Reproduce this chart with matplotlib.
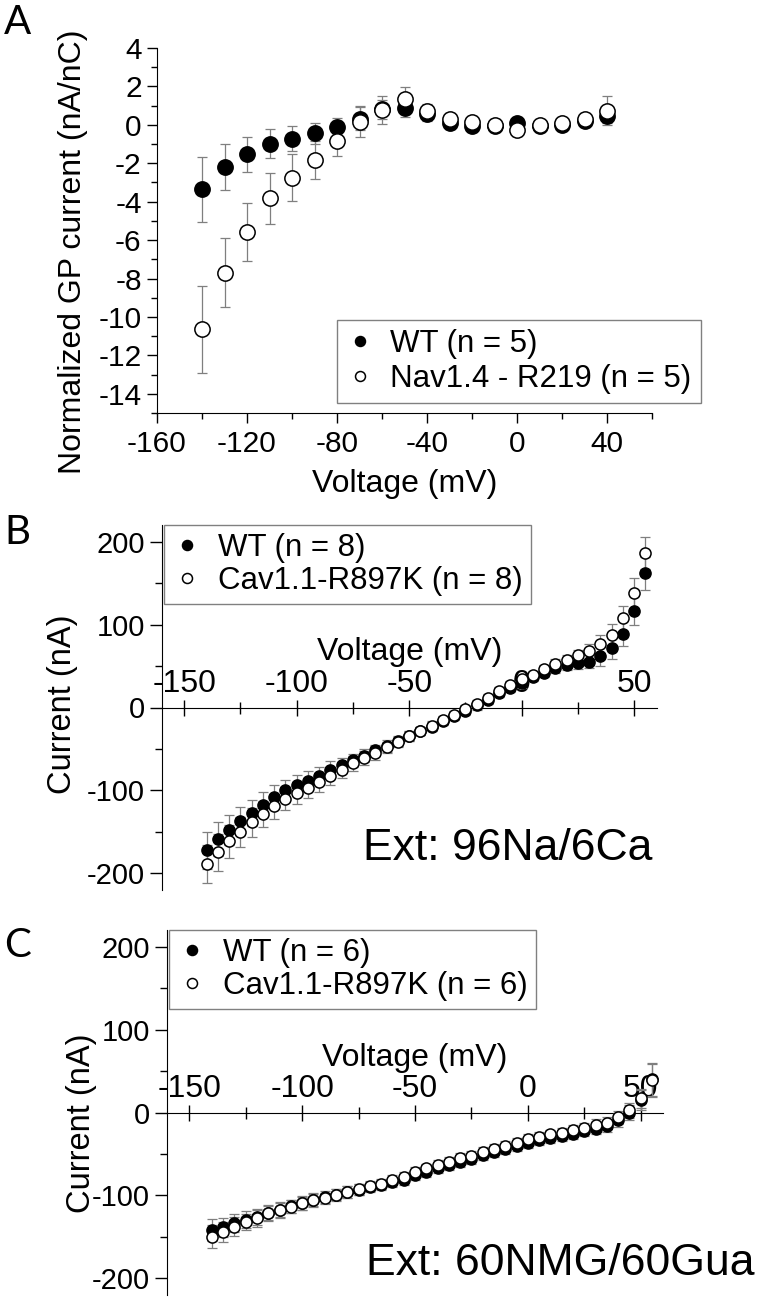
import matplotlib
matplotlib.use("Agg")
import matplotlib.pyplot as plt
from matplotlib.ticker import MultipleLocator

plt.rcParams['font.family'] = ['Liberation Sans', 'DejaVu Sans']
plt.rcParams['axes.unicode_minus'] = False

# panel A: normalized gating pore current, Nav1.4
volt_a = [-140, -130, -120, -110, -100, -90, -80, -70, -60, -50,
          -40, -30, -20, -10, 0, 10, 20, 30, 40]
wt_a = [-3.35, -2.2, -1.53, -0.98, -0.72, -0.43, -0.12, 0.33, 0.8, 0.9,
        0.56, 0.07, -0.05, -0.08, 0.07, -0.05, 0.0, 0.2, 0.47]
wt_a_err = [1.7, 1.2, 0.9, 0.75, 0.65, 0.55, 0.5, 0.6, 0.5, 0.5,
            0.35, 0.3, 0.25, 0.2, 0.25, 0.2, 0.2, 0.25, 0.4]
mut_a = [-10.65, -7.7, -5.57, -3.82, -2.75, -1.82, -0.83, 0.17, 0.78, 1.34,
         0.73, 0.3, 0.16, -0.02, -0.26, 0.0, 0.12, 0.3, 0.73]
mut_a_err = [2.25, 1.8, 1.5, 1.33, 1.23, 1.0, 0.78, 0.8, 0.73, 0.65,
             0.35, 0.3, 0.3, 0.3, 0.3, 0.25, 0.25, 0.3, 0.75]

# panels B and C: Cav1.1 currents, -140..55 mV in 5 mV steps
volt_bc = [-140, -135, -130, -125, -120, -115, -110, -105, -100, -95,
           -90, -85, -80, -75, -70, -65, -60, -55, -50, -45,
           -40, -35, -30, -25, -20, -15, -10, -5, 0, 5,
           10, 15, 20, 25, 30, 35, 40, 45, 50, 55]

wt_b = [-172.3, -158.6, -147.3, -136.5, -127.3, -117.2, -108, -100, -93.1, -88,
        -82.3, -75, -69.8, -63.8, -58.2, -51.8, -46.5, -40.5, -34.5, -28.5,
        -23, -16.5, -10.5, -4, 2.5, 9, 17.3, 23.3, 29, 37.3,
        41.4, 47.4, 51.4, 53.5, 55.4, 62.3, 71.6, 88.8, 116.9, 162]
wt_b_err = [22, 20, 18, 17, 16, 15, 14, 13, 12, 11,
            10, 10, 9, 8, 8, 7, 7, 6, 6, 5,
            5, 5, 5, 5, 5, 5, 5, 5, 5, 5,
            5, 6, 6, 7, 8, 12, 13, 15, 17, 20]
mut_b = [-188.3, -174.7, -161.4, -150.1, -138.6, -128.5, -119.3, -110, -103.2, -97.1,
         -90.4, -83.1, -75.1, -67, -61, -55, -48, -41.5, -34.5, -28,
         -21.7, -14.8, -8.8, -2, 4.4, 11.3, 20, 27.3, 34, 39.4,
         46.2, 52.2, 57.5, 62.7, 67.9, 76.7, 87.6, 107.7, 137.8, 186]
mut_b_err = [23, 22, 20, 18, 17, 16, 15, 14, 13, 12,
             11, 10, 10, 9, 8, 8, 7, 6, 6, 5,
             5, 5, 5, 5, 5, 5, 5, 5, 5, 5,
             5, 6, 6, 7, 9, 11, 13, 15, 18, 19]

wt_c = [-141.8, -138.6, -133, -129, -126, -121, -117, -113, -109, -105,
        -102, -99, -96, -93, -90, -87.5, -84, -81, -75.5, -71.5,
        -67.5, -63.5, -59.5, -56.5, -51.5, -47.5, -44.5, -40.5, -36.5, -33.5,
        -30.5, -28.5, -25.5, -22.5, -19.5, -16, -9, 0, 15, 40]
wt_c_err = [13, 12, 11, 10, 10, 9, 9, 8, 8, 8,
            7, 7, 7, 7, 6, 6, 6, 6, 6, 6,
            6, 6, 6, 6, 6, 6, 6, 6, 6, 6,
            6, 6, 6, 6, 7, 7, 8, 9, 12, 20]
mut_c = [-149.8, -143.8, -137.5, -131.8, -127.7, -121.7, -117.7, -113.7, -109.6, -105.7,
         -103.6, -99.6, -95.6, -92.8, -88.8, -86, -81.6, -78.3, -71.5, -67.5,
         -63.5, -59.5, -55.4, -52.3, -47.5, -43.4, -40.6, -36.6, -32.5, -29.4,
         -26.5, -24.5, -21.3, -18.5, -15.3, -12.5, -6, 2.8, 16.9, 38.9]
mut_c_err = [14, 12, 11, 10, 10, 9, 9, 8, 8, 8,
             7, 7, 7, 7, 6, 6, 6, 6, 6, 6,
             6, 6, 6, 6, 6, 6, 6, 6, 6, 6,
             6, 6, 6, 6, 7, 7, 8, 9, 12, 20]

W, H = 760, 1298
fig = plt.figure(figsize=(W / 100, H / 100), dpi=100)

def px_axes(left, right, top, bottom):
    return fig.add_axes([left / W, 1 - bottom / H, (right - left) / W, (bottom - top) / H])

def draw_series(ax, x, y, err, filled, ms, label):
    ax.errorbar(x, y, yerr=err, fmt='none', ecolor='#7f7f7f', elinewidth=0.9,
                capsize=3.5, capthick=0.9, zorder=3)
    ax.plot(x, y, 'o', ms=ms, mfc='black' if filled else 'white', mec='black',
            mew=1.1, ls='none', label=label, zorder=4 if filled else 5)

# ---------------- A
axA = px_axes(157, 652, 48, 413)
draw_series(axA, volt_a, wt_a, wt_a_err, True, 11, "WT (n = 5)")
draw_series(axA, volt_a, mut_a, mut_a_err, False, 11, "Nav1.4 - R219 (n = 5)")
axA.set_xlim(-160, 60)
axA.set_ylim(-15, 4)
axA.xaxis.set_major_locator(MultipleLocator(40))
axA.xaxis.set_minor_locator(MultipleLocator(20))
axA.yaxis.set_major_locator(MultipleLocator(2))
axA.yaxis.set_minor_locator(MultipleLocator(1))
for s in ['top', 'right']:
    axA.spines[s].set_visible(False)
axA.tick_params(which='major', direction='out', length=7, width=1, labelsize=21.5)
axA.tick_params(which='minor', direction='out', length=4, width=1)
axA.tick_params(axis='y', pad=4)
axA.tick_params(axis='x', pad=5)
axA.set_xlabel("Voltage (mV)", fontsize=23)
axA.set_ylabel("Normalized GP current (nA/nC)", fontsize=23)
axA.xaxis.set_label_coords(0.5, (413 - 469) / 365)
axA.yaxis.set_label_coords((88 - 157) / 495, 0.441)
legA = axA.legend(loc='upper left', bbox_to_anchor=((337 - 157) / 495, (413 - 320) / 365),
                  borderaxespad=0, fontsize=22.5, markerscale=0.65, handlelength=0.9,
                  handletextpad=0.5, labelspacing=0.15, borderpad=0.3,
                  fancybox=False, framealpha=1, edgecolor='#808080')
legA.get_frame().set_linewidth(1)

# ---------------- B and C
def setup_iv(ax, label_y):
    ax.set_xlim(-160, 60)
    ax.set_ylim(-220, 220)
    ax.spines['right'].set_visible(False)
    ax.spines['bottom'].set_visible(False)
    ax.spines['top'].set_position(('data', 0))
    ax.xaxis.set_ticks_position('top')
    ax.xaxis.set_label_position('top')
    ax.xaxis.set_major_locator(MultipleLocator(50))
    ax.xaxis.set_minor_locator(MultipleLocator(25))
    ax.yaxis.set_major_locator(MultipleLocator(100))
    ax.yaxis.set_minor_locator(MultipleLocator(50))
    ax.tick_params(axis='x', which='major', direction='inout', length=12, width=1,
                   labelsize=23, pad=0)
    ax.tick_params(axis='x', which='minor', direction='inout', length=8, width=1)
    ax.tick_params(axis='y', which='major', direction='out', length=9, width=1,
                   labelsize=21, pad=3)
    ax.tick_params(axis='y', which='minor', direction='out', length=5, width=1)
    ax.set_xlabel("Voltage (mV)", fontsize=23)
    ax.set_ylabel("Current (nA)", fontsize=23.5)
    ax.xaxis.set_label_coords(0.5, label_y)

axB = px_axes(161.7, 656.7, 525, 890)
draw_series(axB, volt_bc, wt_b, wt_b_err, True, 8, "WT (n = 8)")
draw_series(axB, volt_bc, mut_b, mut_b_err, False, 8, "Cav1.1-R897K (n = 8)")
setup_iv(axB, 0.630)
axB.yaxis.set_label_coords((78 - 161.7) / 495, (890 - 704) / 365)
axB.text(0.9905, (890 - 860) / 365, "Ext: 96Na/6Ca", transform=axB.transAxes,
         ha='right', va='baseline', fontsize=32)

axC = px_axes(166.7, 663.3, 930, 1295)
draw_series(axC, volt_bc, wt_c, wt_c_err, True, 8, "WT (n = 6)")
draw_series(axC, volt_bc, mut_c, mut_c_err, False, 8, "Cav1.1-R897K (n = 6)")
setup_iv(axC, 0.627)
axC.yaxis.set_label_coords((97 - 166.7) / 496.6, (1295 - 1123) / 365)
axC.text((755 - 166.7) / 496.6, (1295 - 1275) / 365, "Ext: 60NMG/60Gua",
         transform=axC.transAxes, ha='right', va='baseline', fontsize=32,
         clip_on=False)

for ax in (axB, axC):
    leg = ax.legend(loc='upper left', bbox_to_anchor=(0.004, 1.0), borderaxespad=0,
                    fontsize=22.5, markerscale=0.9, handlelength=1.0, handletextpad=0.5,
                    labelspacing=0.1, borderpad=0.25, fancybox=False, framealpha=1,
                    edgecolor='#808080')
    leg.get_frame().set_linewidth(1)

# panel letters
for letter, y in [("A", 4), ("B", 514), ("C", 927)]:
    fig.text(4 / W, 1 - y / H, letter, fontsize=29, family=['Lato', 'DejaVu Sans'],
             ha='left', va='top')

fig.savefig("out.png", dpi=100)
